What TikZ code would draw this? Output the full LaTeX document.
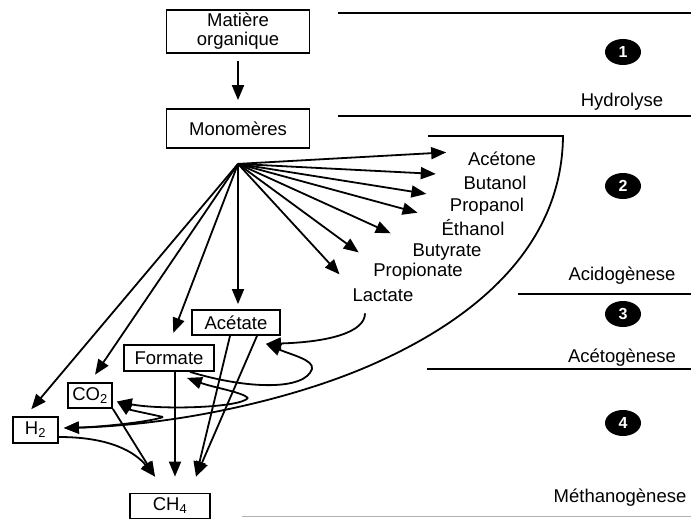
\documentclass[tikz,border=0pt]{standalone}
\usepackage{fontspec}
\setmainfont{Liberation Sans}
\usepackage{tikz}
\usetikzlibrary{arrows.meta, shapes.geometric, positioning}

\begin{document}
\begin{tikzpicture}[x=1pt, y=-1pt,
    font=\fontsize{18.5}{19}\selectfont,
    line width=1.8pt,
    arr/.style={-{Triangle[length=15pt,width=12pt]}},
    box/.style={draw, inner sep=0pt, minimum height=25pt},
    lbl/.style={inner sep=0pt},
    stage/.style={ellipse, fill=black, text=white, inner sep=0pt,
        minimum width=36pt, minimum height=26pt,
        font=\fontsize{16}{16}\selectfont\bfseries},
    sep/.style={line width=1.6pt},
]
\useasboundingbox (0,0) rectangle (691,519);

% phases on the right
\draw[sep] (338,13) -- (691,13);
\draw[sep] (338,116) -- (691,116);
\draw[sep] (518,294) -- (691,294);
\draw[sep] (427,369) -- (691,369);
\draw[gray!60, line width=1pt] (242,516) -- (691,516);

\node[stage] (s1) at (623,52) {1};
\node[stage] (s2) at (623,186) {2};
\node[stage] (s3) at (623,314) {3};
\node[stage] (s4) at (623,423) {4};

\node[lbl] (hydro) at (622,102) {Hydrolyse};
\node[lbl] (acido) at (622,276) {Acidogènese};
\node[lbl] (aceto) at (622,358) {Acétogènese};
\node[lbl] (metha) at (620,498) {Méthanogènese};

% substrates
\node[box, minimum width=143pt, minimum height=43pt, align=center] (MO) at (238,31.5) {Matière\\organique};
\node[box, minimum width=143pt, minimum height=39pt] (Mono) at (238,128.5) {Monomères};
\coordinate (fan) at ([yshift=-15pt]Mono.south);

\node[box, minimum width=88pt] (Acetate) at (236,322.5) {Acétate};
\node[box, minimum width=90pt, minimum height=26pt] (Formate) at (169,358) {Formate};
\node[box, minimum width=44pt] (CO2) at (90,395.5) {CO\textsubscript{2}};
\node[box, minimum width=45pt, minimum height=26pt] (H2) at (35.5,430) {H\textsubscript{2}};
\node[box, minimum width=80pt] (CH4) at (170,506) {CH\textsubscript{4}};

% products of acidogenesis
\node[lbl] (Acetone) at (502,159) {Acétone};
\node[lbl] (Butanol) at (495,183) {Butanol};
\node[lbl] (Propanol) at (487,207) {Propanol};
\node[lbl] (Ethanol) at (473,228) {Éthanol};
\node[lbl] (Butyrate) at (447,252) {Butyrate};
\node[lbl] (Propionate) at (418,272) {Propionate};
\node[lbl] (Lactate) at (383,295) {Lactate};

\draw[arr, shorten <=7pt, shorten >=8pt] (MO) -- (Mono);

\foreach \p/\s in {Acetone/21, Butanol/27, Propanol/23, Ethanol/24,
                   Butyrate/23, Propionate/17, Lactate/18}
    \draw[arr, shorten >=\s pt] (fan) -- (\p.north west);

\draw[arr, shorten >=5pt] (fan) -- (fan |- Acetate.north);
\draw[arr, shorten >=12pt] (fan) -- (Formate.north);
\draw[arr, shorten >=9pt] (fan) -- (CO2.north);
\draw[arr, shorten >=9pt] (fan) -- ([xshift=-10pt]H2.north);

% ends of the arrows above CH4
\coordinate (c1) at ([xshift=-15pt,yshift=16pt]CH4.north);
\coordinate (c2) at ([xshift=5pt,yshift=16pt]CH4.north);
\coordinate (c3) at ([xshift=26pt,yshift=16pt]CH4.north);
\coordinate (aceIn) at ([xshift=-15pt,yshift=-8pt]Acetate.south east);
\coordinate (forIn) at ([xshift=18pt,yshift=-6pt]Formate.south);
\coordinate (co2In) at ([xshift=4pt,yshift=-6pt]CO2.east);
\coordinate (h2In) at ([xshift=5pt,yshift=2pt]H2.east);

% acetogenesis
\coordinate (hk0) at (312,369);
\coordinate (hk1) at (248,398);
\coordinate (hk2) at (163,417);
\draw[arr] ([xshift=-18pt,yshift=-11pt]Lactate.south) .. controls (365,332) and (330,342) .. (aceIn);
\draw[arr] ([xshift=21pt]Formate.south) .. controls (250,390) and (305,390) .. (hk0)
    .. controls (314,360) and (292,355) .. (aceIn);
\draw[arr] (hk1) .. controls (242,392) and (215,388) .. (forIn);
\draw[arr] (hk1) .. controls (240,408) and (160,410) .. (co2In);
\draw[arr] (hk2) .. controls (150,414) and (130,410) .. (co2In);
\draw[arr] (hk2) .. controls (150,422) and (100,427) .. (h2In);

% bracket round the acidogenesis products
\coordinate (brk) at (428,136);
\coordinate (brkc) at (563,136);
\draw[arr] (brk) -- (brkc) .. controls (562,250) and (470,320) .. (380,361)
    .. controls (300,398) and (180,425) .. (h2In);

% methanogenesis
\draw[arr] ([xshift=-6pt]Acetate.south) -- (c3);
\draw[arr] ([xshift=21pt]Acetate.south) -- (c3);
\draw[arr] (Formate.south -| c2) -- (c2);
\draw[arr] (CO2.south east) -- (c1);
\draw[arr] ([yshift=-7pt]H2.east) .. controls (110,437) and (135,452) .. (c1);
\end{tikzpicture}
\end{document}
